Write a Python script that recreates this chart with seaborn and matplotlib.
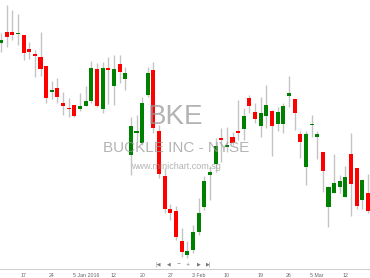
import matplotlib
matplotlib.use("Agg")
import matplotlib.pyplot as plt
import seaborn as sns
import pandas as pd

# ---- data ----
opens  = [32.85, 33.40, 33.40, 33.28, 33.25, 32.55, 32.30, 32.15, 31.70, 30.40,
          30.60, 29.85, 29.56, 29.75, 29.55, 29.70, 29.95, 31.55, 29.55, 31.60,
          30.70, 31.80, 31.05, 27.25, 28.35, 27.85, 30.25, 31.50, 28.45, 26.20,
          24.55, 24.45, 22.95, 22.25, 22.50, 23.40, 24.65, 26.25, 26.80, 28.10,
          27.65, 28.15, 28.45, 28.55, 30.10, 29.40, 28.70, 29.20, 29.45, 28.80,
          28.80, 30.20, 30.05, 28.30, 26.65, 28.74, 28.15, 27.40, 24.65, 25.35,
          25.65, 25.15, 27.30, 26.60, 25.00, 25.35]
highs  = [33.35, 34.75, 34.50, 34.30, 33.25, 32.90, 32.50, 33.40, 31.70, 30.95,
          31.10, 30.40, 30.10, 29.75, 30.35, 30.70, 31.95, 31.85, 31.90, 32.15,
          32.25, 32.25, 31.65, 29.15, 29.25, 30.15, 31.65, 31.90, 28.75, 26.60,
          24.80, 24.70, 23.60, 22.95, 23.75, 25.10, 26.20, 26.70, 28.10, 28.60,
          28.65, 28.40, 30.00, 29.60, 30.25, 29.85, 30.15, 30.75, 29.50, 29.65,
          29.85, 31.20, 30.05, 28.45, 28.45, 29.25, 28.45, 27.40, 25.70, 27.30,
          26.25, 26.70, 28.35, 26.60, 26.05, 26.30]
lows   = [32.40, 32.65, 33.00, 32.75, 32.00, 32.05, 31.15, 31.20, 29.85, 30.05,
          29.85, 29.25, 29.15, 29.15, 29.45, 29.70, 29.85, 29.65, 29.35, 29.80,
          29.75, 30.85, 30.50, 26.25, 27.90, 27.75, 30.15, 28.35, 26.10, 24.35,
          24.00, 23.00, 22.15, 22.10, 22.35, 23.25, 24.50, 25.00, 26.40, 26.90,
          27.40, 27.75, 28.00, 28.00, 29.35, 28.85, 28.15, 28.60, 27.20, 28.45,
          28.35, 29.65, 28.50, 27.10, 25.75, 28.15, 27.05, 25.40, 23.65, 25.35,
          25.35, 25.15, 24.20, 24.55, 24.55, 24.35]
closes = [33.00, 33.15, 33.25, 33.30, 32.35, 32.40, 32.20, 31.55, 30.10, 30.50,
          30.15, 29.70, 29.54, 29.20, 29.70, 29.95, 31.60, 29.70, 31.60, 31.52,
          31.55, 31.40, 31.35, 28.70, 28.45, 29.85, 31.35, 28.60, 26.30, 24.55,
          24.35, 23.15, 22.40, 22.45, 23.40, 24.35, 25.95, 26.40, 27.70, 28.00,
          27.75, 27.85, 28.35, 29.20, 29.70, 29.05, 29.35, 29.75, 28.70, 29.40,
          29.70, 30.35, 29.35, 27.90, 28.30, 28.76, 28.30, 26.45, 25.65, 25.85,
          25.95, 26.15, 25.80, 24.70, 26.00, 24.45]
tick_labels = ["17", "24", "5 Jan 2016", "12", "20", "27", "3 Feb", "10",
               "19", "26", "5 Mar", "12"]
tick_index  = [4, 9, 15, 20, 25, 30, 35, 40, 46, 51, 56, 61]

df = pd.DataFrame({"open": opens, "high": highs, "low": lows, "close": closes})
df["idx"] = range(len(df))
df["up"] = df["close"] >= df["open"]
df["bottom"] = df[["open", "close"]].min(axis=1)
df["height"] = (df["close"] - df["open"]).abs().clip(lower=0.05)

sns.set_style("white")
plt.rcParams["font.family"] = ["Liberation Sans", "DejaVu Sans"]

fig = plt.figure(figsize=(3.7, 2.78), dpi=100)
ax = fig.add_axes([0, 9 / 278, 1, 269 / 278])

# watermark
fig.text(176 / 370, 1 - 117 / 278, "BKE", ha="center", va="center",
         fontsize=20, color="#9a9a9a", alpha=0.75, zorder=0)
fig.text(176 / 370, 1 - 148 / 278, "BUCKLE INC - NYSE", ha="center",
         va="center", fontsize=11, color="#9a9a9a", alpha=0.75, zorder=0)
fig.text(176 / 370, 1 - 166.5 / 278, "www.minichart.com.sg", ha="center",
         va="center", fontsize=6.5, color="#9a9a9a", alpha=0.75, zorder=0)

ax.set_facecolor("none")
ax.vlines(df["idx"], df["low"], df["high"], color="#c4c4c4", lw=1, zorder=2)
colors = ["#008000" if u else "#ff0000" for u in df["up"]]
ax.bar(df["idx"], df["height"], bottom=df["bottom"], width=0.72,
       color=colors, linewidth=0, zorder=3)

ax.set_xlim(-0.177, 65.35)
ax.set_ylim(21.55, 35)
ax.set_yticks([])
ax.set_xticks(tick_index)
ax.set_xticklabels(tick_labels)
ax.tick_params(axis="x", length=2, width=0.6, color="#cccccc",
               labelsize=3.8, labelcolor="#666666", pad=1.2)
for s in ["top", "left", "right"]:
    ax.spines[s].set_visible(False)
ax.spines["bottom"].set_color("#d0d0d0")
ax.spines["bottom"].set_linewidth(0.8)

# navigation controls
nav = [(158, "|◀"), (169, "◀"), (179, "−"), (188, "+"), (199, "▶"), (209, "▶|")]
for x, s in nav:
    fig.text(x / 370, 1 - 264 / 278, s, ha="center", va="center",
             fontsize=3.5, color="#777777", family=["DejaVu Sans"])

fig.savefig("out.png", dpi=100)
